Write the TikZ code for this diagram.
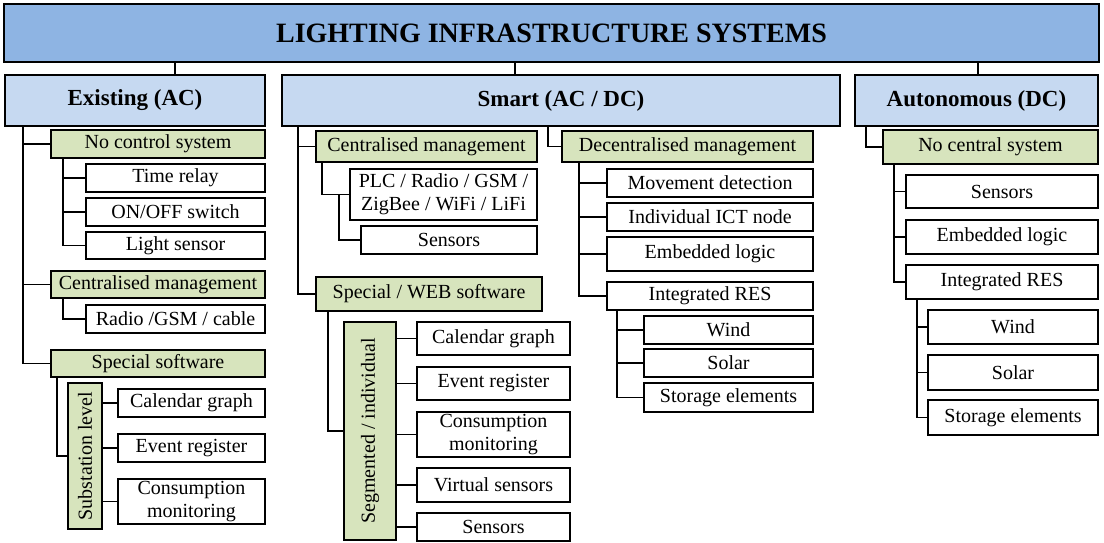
\documentclass[tikz,border=0pt]{standalone}
\usepackage{fontspec}
\setmainfont{Liberation Serif}
\usepackage{graphicx}
\usetikzlibrary{calc}
\definecolor{titleblue}{HTML}{8EB4E3}
\definecolor{lvlblue}{HTML}{C6D9F1}
\definecolor{grpgreen}{HTML}{D7E4BD}
\tikzset{
 base/.style={draw=black, inner sep=0pt, outer sep=0pt, align=center, font=\fontsize{20}{23}\selectfont},
 leaf/.style={base, fill=white, line width=1.2pt},
 grp/.style={base, fill=grpgreen, line width=1.2pt},
 lvl/.style={base, fill=lvlblue, line width=2pt, font=\fontsize{23}{26}\selectfont\bfseries},
 ttl/.style={base, fill=titleblue, line width=2pt, font=\fontsize{28}{30}\selectfont\bfseries},
 conn/.style={draw=black, line width=1.2pt},
}
\newcommand\bx[7]{\node[#6, anchor=north west, minimum width={#4-#2}, minimum height={#5-#3}] (#1) at (#2,#3) {#7};}
\begin{document}
\begin{tikzpicture}[x=1pt,y=-1pt]
\useasboundingbox (0,0) rectangle (1104,542);
% title and level 1
\bx{title}{4}{4}{1099}{62}{ttl}{LIGHTING INFRASTRUCTURE SYSTEMS}
\bx{ex}{5}{75}{265}{126}{lvl}{Existing (AC)}
\bx{sm}{282}{75}{840}{126}{lvl}{Smart (AC / DC)}
\bx{au}{855}{75}{1098}{126}{lvl}{Autonomous (DC)}
% existing
\bx{nc}{51}{130}{265}{158}{grp}{No control system}
\bx{tr}{86}{164}{265}{192}{leaf}{Time relay}
\bx{oo}{86}{198}{265}{226}{leaf}{ON/OFF switch}
\bx{ls}{86}{232}{265}{259}{leaf}{Light sensor}
\bx{cma}{51}{271}{265}{298}{grp}{Centralised management}
\bx{rg}{86}{305}{265}{333}{leaf}{Radio /GSM / cable}
\bx{ss}{51}{350}{265}{377}{grp}{Special software}
\bx{sub}{68}{383}{102}{529}{grp}{\rotatebox{90}{Substation level}}
\bx{cga}{118}{389}{265}{417}{leaf}{Calendar graph}
\bx{era}{118}{434}{265}{462}{leaf}{Event register}
\bx{cmona}{118}{479}{265}{524}{leaf}{Consumption\\monitoring}
% smart - centralised
\bx{cmb}{316}{131}{537}{162}{grp}{Centralised management}
\bx{plc}{350}{169}{537}{220}{leaf}{PLC / Radio / GSM /\\ZigBee / WiFi / LiFi}
\bx{senb}{361}{226}{537}{254}{leaf}{Sensors}
\bx{sw}{316}{277}{542}{311}{grp}{Special / WEB software}
\bx{seg}{344}{322}{396}{540}{grp}{\rotatebox{90}{Segmented / individual}}
\bx{cgb}{417}{322}{570}{355}{leaf}{Calendar graph}
\bx{erb}{417}{367}{570}{400}{leaf}{Event register}
\bx{cmonb}{417}{412}{570}{457}{leaf}{Consumption\\monitoring}
\bx{vs}{417}{468}{570}{502}{leaf}{Virtual sensors}
\bx{senc}{417}{513}{570}{541}{leaf}{Sensors}
% smart - decentralised
\bx{dm}{562}{131}{813}{162}{grp}{Decentralised management}
\bx{md}{607}{169}{813}{197}{leaf}{Movement detection}
\bx{ict}{607}{203}{813}{231}{leaf}{Individual ICT node}
\bx{elb}{607}{237}{813}{271}{leaf}{Embedded logic}
\bx{iresb}{607}{282}{813}{310}{leaf}{Integrated RES}
\bx{wb}{644}{316}{813}{344}{leaf}{Wind}
\bx{sob}{644}{349}{813}{377}{leaf}{Solar}
\bx{stb}{644}{383}{813}{412}{leaf}{Storage elements}
% autonomous
\bx{ncs}{883}{130}{1098}{164}{grp}{No central system}
\bx{send}{906}{175}{1098}{208}{leaf}{Sensors}
\bx{eld}{906}{220}{1098}{254}{leaf}{Embedded logic}
\bx{iresd}{906}{265}{1098}{299}{leaf}{Integrated RES}
\bx{wd}{928}{310}{1098}{344}{leaf}{Wind}
\bx{sod}{928}{355}{1098}{390}{leaf}{Solar}
\bx{std}{928}{400}{1098}{435}{leaf}{Storage elements}
% connectors: title
\draw[conn] ($(title.south west)+(171,0)$) -- ($(ex.north west)+(170,0)$);
\draw[conn] ($(title.south west)+(511,0)$) -- ($(sm.north west)+(233,0)$);
\draw[conn] ($(title.south west)+(974,0)$) -- ($(au.north west)+(123,0)$);
% existing
\foreach \n in {nc,cma,ss} \draw[conn] ($(ex.south west)+(18,0)$) |- (\n.west);
\foreach \n in {tr,oo,ls} \draw[conn] ($(nc.south west)+(12,0)$) |- (\n.west);
\draw[conn] ($(cma.south west)+(12,0)$) |- (rg.west);
\draw[conn] ($(ss.south west)+(6,0)$) |- (sub.west);
\foreach \n in {cga,era,cmona} \draw[conn] (sub.east |- \n.west) -- (\n.west);
% smart
\foreach \n in {cmb,sw} \draw[conn] ($(sm.south west)+(16,0)$) |- (\n.west);
\draw[conn] ($(sm.south west)+(266,0)$) |- (dm.west);
\draw[conn] ($(cmb.south west)+(6,0)$) |- (plc.west);
\draw[conn] ($(plc.west)+(-11,0)$) |- (senb.west);
\draw[conn] ($(sw.south west)+(12,0)$) |- (seg.west);
\foreach \n in {cgb,erb,cmonb,vs,senc} \draw[conn] (seg.east |- \n.west) -- (\n.west);
\foreach \n in {md,ict,elb,iresb} \draw[conn] ($(dm.south west)+(17,0)$) |- (\n.west);
\foreach \n in {wb,sob,stb} \draw[conn] ($(iresb.south west)+(10,0)$) |- (\n.west);
% autonomous
\draw[conn] ($(au.south west)+(11,0)$) |- (ncs.west);
\foreach \n in {send,eld,iresd} \draw[conn] ($(ncs.south west)+(11,0)$) |- (\n.west);
\foreach \n in {wd,sod,std} \draw[conn] ($(iresd.south west)+(11,0)$) |- (\n.west);
\end{tikzpicture}
\end{document}
